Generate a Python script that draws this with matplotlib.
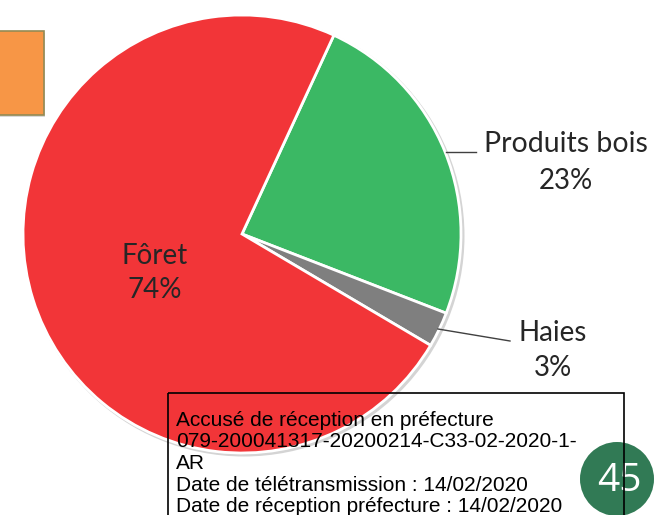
import matplotlib.pyplot as plt
from matplotlib.patches import Rectangle, Circle

# share of each origin, clockwise from the top
categories = ['Produits bois', 'Haies', 'Fôret']
values = [24.0, 2.6, 73.4]
pct_labels = ['23%', '3%', '74%']
colors = ['#3bb864', '#7f7f7f', '#f23538']

stamp_lines = ['Accusé de réception en préfecture',
               '079-200041317-20200214-C33-02-2020-1-',
               'AR',
               'Date de télétransmission : 14/02/2020',
               'Date de réception préfecture : 14/02/2020']
page_number = '45'

W, H = 655, 515
fig = plt.figure(figsize=(W / 100, H / 100), dpi=100)
ax = fig.add_axes([0, 0, 1, 1])

cx, cy, r = 242, 234, 219

# pie drawn in pixel space; y is flipped so counterclock=True runs clockwise on screen
wedges, _ = ax.pie(values, colors=colors, center=(cx, cy), radius=r,
                   startangle=-65.2, counterclock=True,
                   wedgeprops=dict(edgecolor='white', linewidth=2))
for w in wedges:
    w.set_zorder(3)

ax.set_xlim(0, W)
ax.set_ylim(H, 0)
ax.set_aspect('equal')
ax.axis('off')

# orange box at top left (cut by the border)
ax.add_patch(Rectangle((-5, 33), 50, 84, facecolor='#d9d9d9', edgecolor='none', zorder=1))
ax.add_patch(Rectangle((-8, 31), 52, 84, facecolor='#f79646', edgecolor='#948a54', lw=1.2, zorder=2))

# soft shadow under the pie
ax.add_patch(Circle((cx + 2, cy + 2), r + 1.5, facecolor='#d4d4d4', edgecolor='none', zorder=2))

font = 'Lato'
tc = '#262626'
ax.text(155, 256, categories[2], ha='center', va='center', fontsize=20, color=tc, family=font, zorder=5)
ax.text(155, 290, pct_labels[2], ha='center', va='center', fontsize=20, color=tc, family=font, zorder=5)

ax.plot([446, 476], [152, 152], color='#404040', lw=1, zorder=5)
ax.text(566, 144, categories[0], ha='center', va='center', fontsize=20.5, color=tc, family=font, zorder=5)
ax.text(566, 181, pct_labels[0], ha='center', va='center', fontsize=20, color=tc, family=font, zorder=5)

ax.plot([438, 510], [329, 341], color='#404040', lw=1, zorder=5)
ax.text(553, 333, categories[1], ha='center', va='center', fontsize=20, color=tc, family=font, zorder=5)
ax.text(553, 368, pct_labels[1], ha='center', va='center', fontsize=20, color=tc, family=font, zorder=5)

# page number badge
ax.add_patch(Circle((617, 479), 37, facecolor='#317a55', edgecolor='none', zorder=6))
ax.text(619, 481, page_number, ha='center', va='center', fontsize=28, color='white',
        family='Open Sans', zorder=7)

# reception stamp
ax.add_patch(Rectangle((168, 393), 456, 140, facecolor='none', edgecolor='black', lw=1.2, zorder=8))
for i, line in enumerate(stamp_lines):
    ax.text(176, 420 + i * 21.7, line, ha='left', va='center', fontsize=15,
            family='Liberation Sans', color='black', zorder=8)

fig.savefig('out.png', dpi=100)
